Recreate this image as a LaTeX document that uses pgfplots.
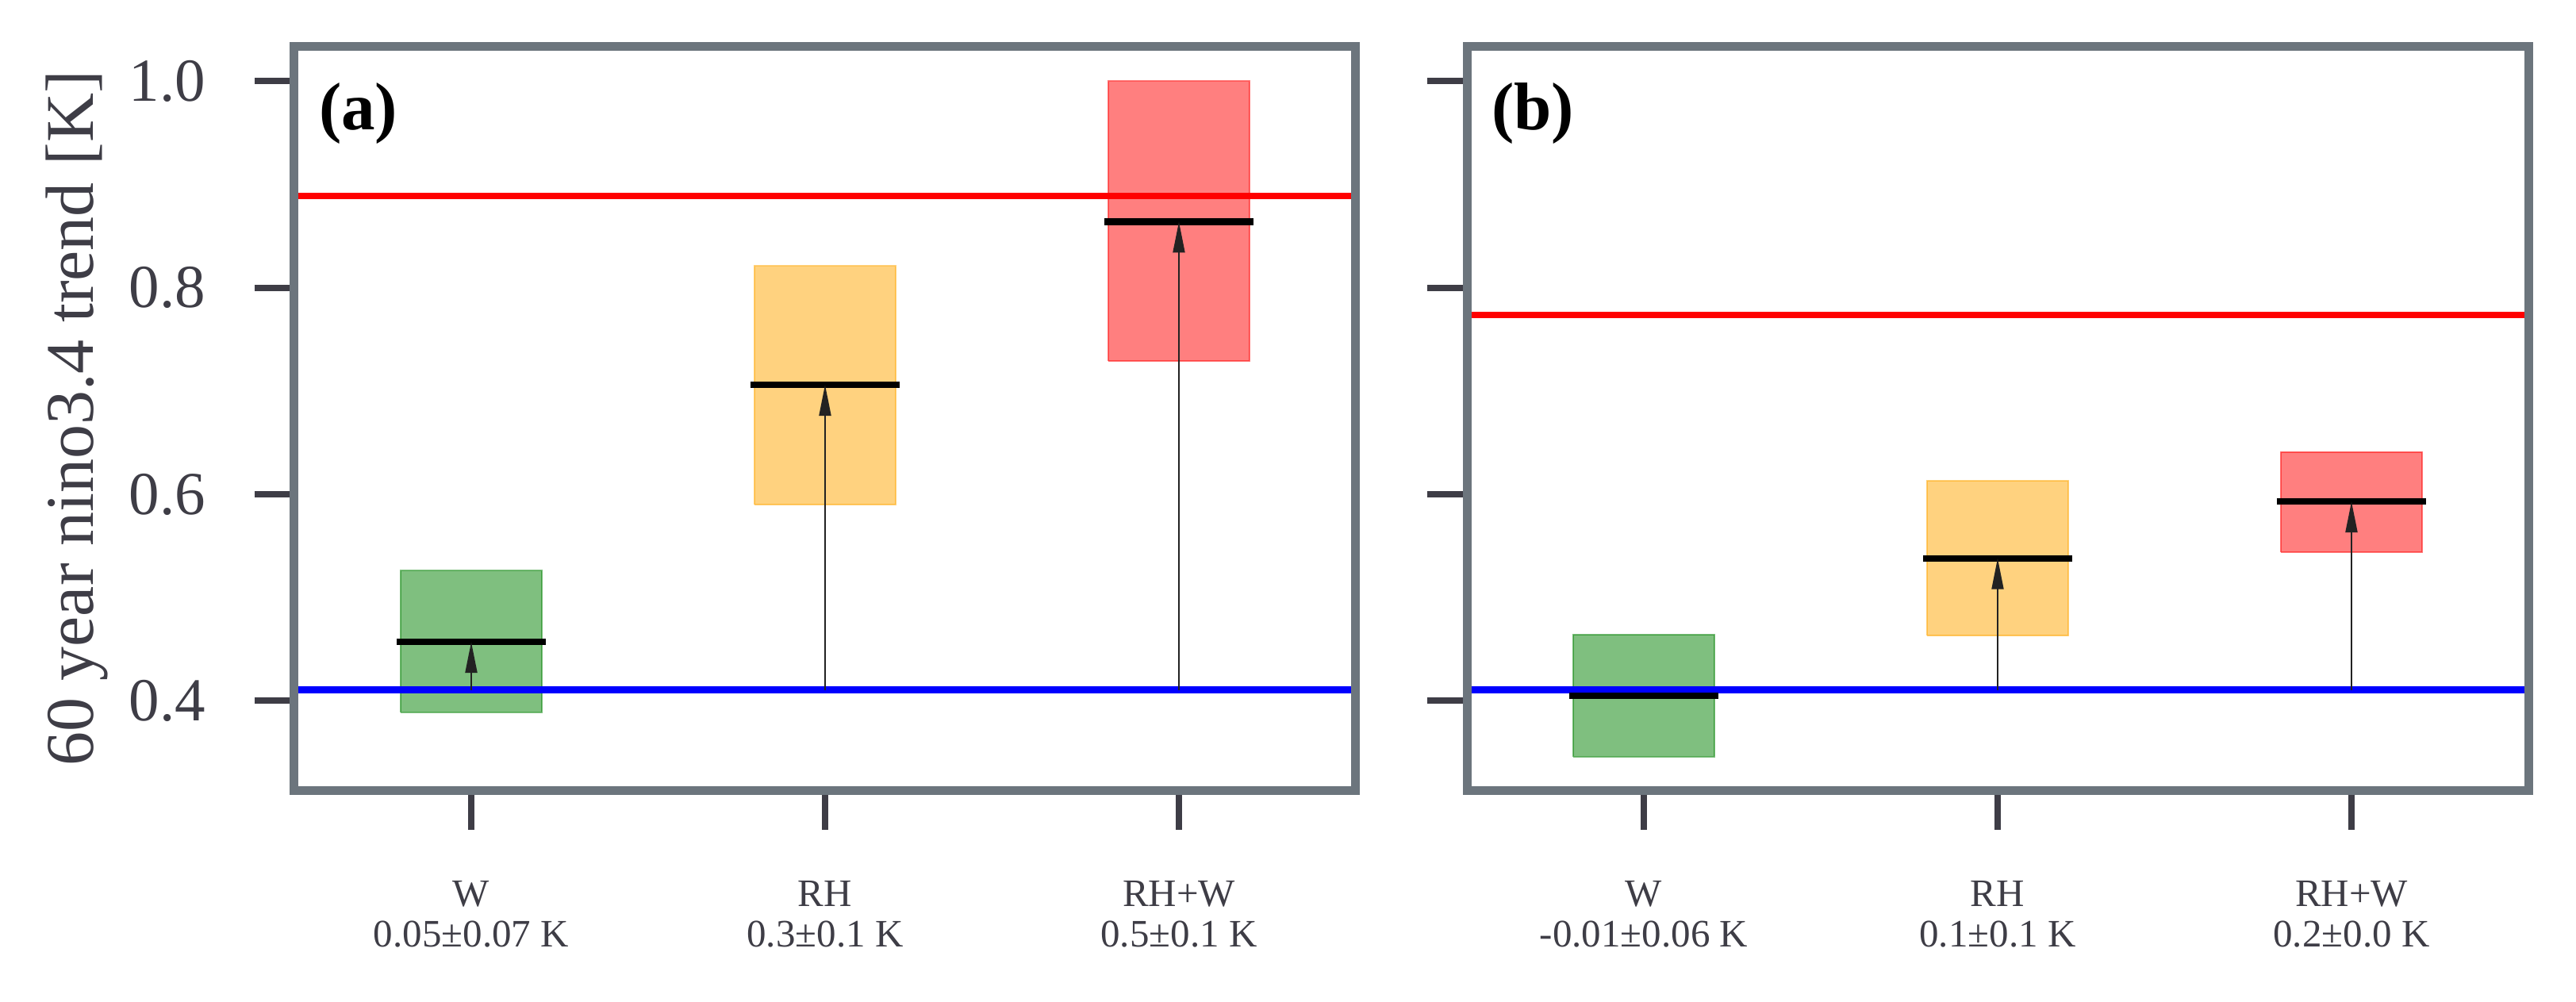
\documentclass[border=0pt]{standalone}
\usepackage{fontspec}
\setmainfont{Liberation Serif}
\usepackage{pgfplots}
\pgfplotsset{compat=1.18}
\usetikzlibrary{arrows.meta}

\definecolor{spine}{RGB}{108,117,125}
\definecolor{tickc}{RGB}{62,61,70}
\definecolor{arrowc}{RGB}{34,34,34}
\definecolor{mplgreen}{RGB}{0,128,0}
\definecolor{mplorange}{RGB}{255,165,0}
\definecolor{mplred}{RGB}{255,0,0}
\definecolor{mplblue}{RGB}{0,0,255}

\pgfplotsset{
  panel/.style={
    scale only axis, width=133.8pt, height=93.7pt,
    xmin=-0.5, xmax=2.5, ymin=0.3134, ymax=1.0334,
    axis on top,
    axis line style={draw=spine, line width=1.1pt},
    tick align=outside, xtick pos=bottom, ytick pos=left,
    major tick length=5pt,
    tick style={color=tickc, line width=0.8pt},
    xtick={0,1,2}, ytick={0.4,0.6,0.8,1.0},
    yticklabel style={anchor=east, inner sep=0pt, xshift=-6pt, text=tickc,
      font=\fontsize{7.7}{9}\selectfont},
    xticklabel style={anchor=north, inner sep=0pt, yshift=-6.2pt, align=center, text=tickc,
      font=\fontsize{4.9}{5.17}\selectfont},
  },
  spreadbox/.style={fill=#1, fill opacity=0.5, draw=#1, draw opacity=0.5, line width=0.2pt},
  medianline/.style={black, line width=0.83pt},
  reflevel/.style={#1, line width=0.83pt},
  gainarrow/.style={arrowc, line width=0.2pt, -{Triangle[length=3.9pt, width=1.5pt]}},
}
\tikzset{paneltag/.style={anchor=base west, inner sep=0pt, font=\bfseries\fontsize{8.5}{10}\selectfont}}

\begin{document}
\begin{tikzpicture}
\path[use as bounding box] (0,0) rectangle (324.7pt,126.2pt);

% (a)
\begin{axis}[panel, at={(37.1pt,26.6pt)}, anchor=south west,
  yticklabels={0.4,0.6,0.8,1.0},
  xticklabels={{W\\0.05±0.07 K},{RH\\0.3±0.1 K},{RH+W\\0.5±0.1 K}},
  ylabel={60 year nino3.4 trend [K]},
  every axis y label/.style={at={(axis description cs:-0.1898,0.5)}, rotate=90, anchor=base,
    text=tickc, font=\fontsize{8.6}{10}\selectfont},
]
% spread boxes
\addplot[spreadbox=mplgreen]  coordinates {(-0.2,0.389) (0.2,0.389) (0.2,0.526) (-0.2,0.526) (-0.2,0.389)};
\addplot[spreadbox=mplorange] coordinates {(0.8,0.590) (1.2,0.590) (1.2,0.821) (0.8,0.821) (0.8,0.590)};
\addplot[spreadbox=mplred]    coordinates {(1.8,0.729) (2.2,0.729) (2.2,1.000) (1.8,1.000) (1.8,0.729)};
% reference levels
\addplot[reflevel=mplblue] coordinates {(-0.5,0.4105) (2.5,0.4105)};
\addplot[reflevel=mplred]  coordinates {(-0.5,0.8888) (2.5,0.8888)};
% medians
\addplot[medianline] coordinates {(-0.21,0.457) (0.21,0.457)};
\addplot[medianline] coordinates {(0.79,0.706) (1.21,0.706)};
\addplot[medianline] coordinates {(1.79,0.864) (2.21,0.864)};
% shifts from the baseline
\addplot[gainarrow] coordinates {(0,0.4105) (0,0.457)};
\addplot[gainarrow] coordinates {(1,0.4105) (1,0.706)};
\addplot[gainarrow] coordinates {(2,0.4105) (2,0.864)};
\node[paneltag] at (rel axis cs:0.0217,0.888) {(a)};
\end{axis}

% (b)
\begin{axis}[panel, at={(184.9pt,26.6pt)}, anchor=south west,
  yticklabels={},
  xticklabels={{W\\-0.01±0.06 K},{RH\\0.1±0.1 K},{RH+W\\0.2±0.0 K}},
]
\addplot[spreadbox=mplgreen]  coordinates {(-0.2,0.346) (0.2,0.346) (0.2,0.464) (-0.2,0.464) (-0.2,0.346)};
\addplot[spreadbox=mplorange] coordinates {(0.8,0.463) (1.2,0.463) (1.2,0.613) (0.8,0.613) (0.8,0.463)};
\addplot[spreadbox=mplred]    coordinates {(1.8,0.544) (2.2,0.544) (2.2,0.641) (1.8,0.641) (1.8,0.544)};
\addplot[reflevel=mplblue] coordinates {(-0.5,0.4105) (2.5,0.4105)};
\addplot[reflevel=mplred]  coordinates {(-0.5,0.7734) (2.5,0.7734)};
\addplot[medianline] coordinates {(-0.21,0.405) (0.21,0.405)};
\addplot[medianline] coordinates {(0.79,0.538) (1.21,0.538)};
\addplot[medianline] coordinates {(1.79,0.593) (2.21,0.593)};
\addplot[gainarrow] coordinates {(1,0.4105) (1,0.538)};
\addplot[gainarrow] coordinates {(2,0.4105) (2,0.593)};
\node[paneltag] at (rel axis cs:0.0217,0.888) {(b)};
\end{axis}
\end{tikzpicture}
\end{document}
